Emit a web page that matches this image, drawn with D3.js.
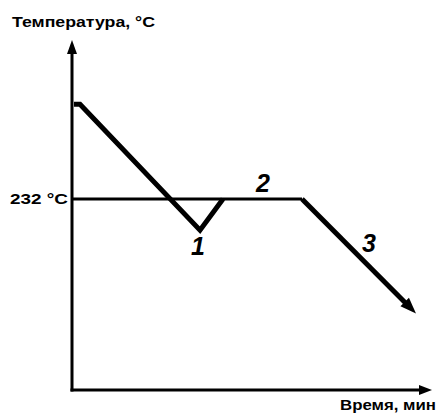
<!DOCTYPE html>
<html><head><meta charset="utf-8">
<script src="https://cdn.jsdelivr.net/npm/d3@7"></script>
<style>html,body{margin:0;padding:0;background:#fff}svg{display:block}</style>
</head><body>
<script>
// Data (schematic cooling curve of tin)
const cooling1 = [ {t:2, T:347}, {t:8, T:347}, {t:128, T:194}, {t:151, T:232} ];
const plateau = [ {t:0, T:232}, {t:230, T:232} ];
const cooling2 = [ {t:230, T:232}, {t:344, T:93} ];
const pointLabels = ["1","2","3"];
const pointLabelPos = [ {t:119, T:164}, {t:184, T:240}, {t:290, T:168} ];
const yTickLabel = "232 °С";
const yTitle = "Температура, °С";
const xTitle = "Время, мин";

const W = 440, H = 413;
const x = d3.scaleLinear().domain([0, 358]).range([72, 430]);
const y = d3.scaleLinear().domain([0, 425]).range([390, 40]);

const svg = d3.select("body").append("svg").attr("width", W).attr("height", H);
const line = d3.line().x(d => x(d.t)).y(d => y(d.T));

// axes
svg.append("line").attr("x1", x(0)).attr("x2", x(0)).attr("y1", y(0)+1.5).attr("y2", y(425)+10)
  .attr("stroke", "#000").attr("stroke-width", 3);
svg.append("line").attr("x1", x(0)-1.5).attr("x2", x(358)-8).attr("y1", y(0)).attr("y2", y(0))
  .attr("stroke", "#000").attr("stroke-width", 3);
// arrowheads
svg.append("path").attr("d", `M${x(0)},${y(425)} L${x(0)-5},${y(425)+14} L${x(0)+5},${y(425)+14}Z`).attr("fill", "#000");
svg.append("path").attr("d", `M${x(358)+2},${y(0)} L${x(358)-11},${y(0)-5} L${x(358)-11},${y(0)+5}Z`).attr("fill", "#000");

// plateau / 232 line
svg.append("path").datum(plateau).attr("d", line).attr("fill", "none").attr("stroke", "#000").attr("stroke-width", 3);
// cooling segments
svg.append("path").datum(cooling1).attr("d", line).attr("fill", "none").attr("stroke", "#000")
  .attr("stroke-width", 5).attr("stroke-linejoin", "miter");
{
  const a = cooling2[0], b = cooling2[1];
  const x1 = x(a.t), y1 = y(a.T), x2 = x(b.t), y2 = y(b.T);
  const len = Math.hypot(x2-x1, y2-y1), ux = (x2-x1)/len, uy = (y2-y1)/len;
  const ex = x2 - ux*12, ey = y2 - uy*12;
  svg.append("path").attr("d", `M${x1},${y1} L${ex},${ey}`).attr("fill", "none").attr("stroke", "#000").attr("stroke-width", 5);
  const bx = x2 - ux*16, by = y2 - uy*16, px = -uy, py = ux;
  svg.append("path").attr("d", `M${x2},${y2} L${bx+px*6},${by+py*6} L${bx-px*6},${by-py*6}Z`).attr("fill", "#000");
}

// texts
const font = "'Liberation Sans', Arial, sans-serif";
svg.append("text").attr("x", 12).attr("y", 27).attr("font-family", font).attr("font-weight", "bold")
  .attr("font-size", 15).attr("textLength", 143).attr("lengthAdjust", "spacingAndGlyphs").text(yTitle);
svg.append("text").attr("x", 68).attr("y", y(232)+5).attr("text-anchor", "end").attr("font-family", font)
  .attr("font-weight", "bold").attr("font-size", 15).attr("textLength", 58).attr("lengthAdjust", "spacingAndGlyphs").text(yTickLabel);
svg.append("text").attr("x", 436).attr("y", 410).attr("text-anchor", "end").attr("font-family", font)
  .attr("font-weight", "bold").attr("font-size", 15).attr("textLength", 96).attr("lengthAdjust", "spacingAndGlyphs").text(xTitle);

svg.selectAll("text.num").data(pointLabels).enter().append("text").attr("class", "num")
  .attr("x", (d,i) => x(pointLabelPos[i].t)).attr("y", (d,i) => y(pointLabelPos[i].T))
  .attr("font-family", font).attr("font-weight", "bold").attr("font-style", "italic")
  .attr("font-size", 25).text(d => d);
</script>
</body></html>
